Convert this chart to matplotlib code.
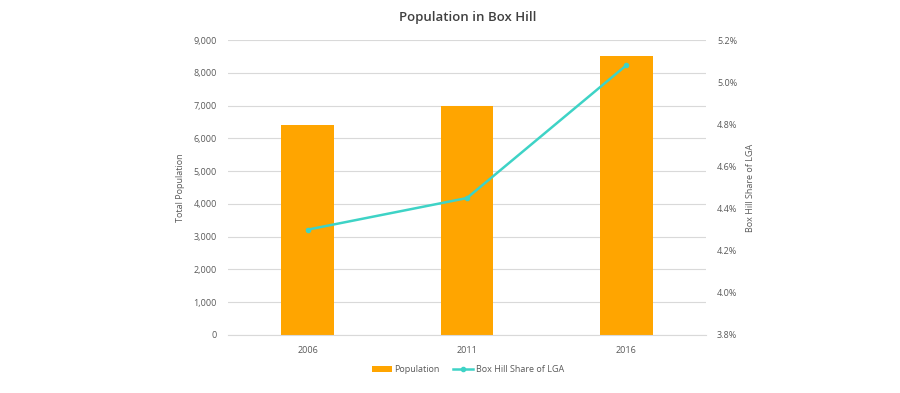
import matplotlib.pyplot as plt
from matplotlib.ticker import FuncFormatter, MultipleLocator

# Data
years = ["2006", "2011", "2016"]
population = [6400, 7000, 8500]
share_pct = [4.30, 4.45, 5.08]

plt.rcParams['font.family'] = ['Open Sans', 'DejaVu Sans']

text_grey = "#595959"
grid_grey = "#d9d9d9"
bar_orange = "#FFA500"
line_teal = "#3ED3C6"

fig = plt.figure(figsize=(9, 3.93), dpi=100, facecolor='white')
ax = fig.add_axes([0.2533, 0.1476, 0.5311, 0.7506])
ax2 = ax.twinx()

x = list(range(len(years)))
ax.bar(x, population, width=0.33, color=bar_orange, zorder=2, label="Population")
ax2.plot(x, share_pct, color=line_teal, linewidth=1.8, marker='o', markersize=3,
         zorder=3, label="Box Hill Share of LGA")

# Left axis
ax.set_xlim(-0.5, 2.5)
ax.set_ylim(0, 9000)
ax.yaxis.set_major_locator(MultipleLocator(1000))
ax.yaxis.set_major_formatter(FuncFormatter(lambda v, p: f"{int(v):,}"))
ax.grid(axis='y', color=grid_grey, linewidth=0.8, zorder=0)
ax.set_axisbelow(True)
ax.set_xticks(x)
ax.set_xticklabels(years)
ax.set_ylabel("Total Population", color=text_grey, fontsize=6.5, labelpad=6)

# Right axis
ax2.set_ylim(3.8, 5.2)
ax2.yaxis.set_major_locator(MultipleLocator(0.2))
ax2.yaxis.set_major_formatter(FuncFormatter(lambda v, p: f"{v:.1f}%"))
ax2.set_ylabel("Box Hill Share of LGA", color=text_grey, fontsize=6.5, labelpad=6)

for a in (ax, ax2):
    for s in a.spines.values():
        s.set_visible(False)
    a.tick_params(axis='both', length=0, labelsize=6.5, labelcolor=text_grey, pad=8)
ax.spines['bottom'].set_visible(True)
ax.spines['bottom'].set_color(grid_grey)

fig.text(0.52, 0.955, "Population in Box Hill", ha='center', va='center',
         fontsize=9.5, color="#404040", fontweight='semibold')

h1, l1 = ax.get_legend_handles_labels()
h2, l2 = ax2.get_legend_handles_labels()
fig.legend(h1 + h2, l1 + l2, loc='center', bbox_to_anchor=(0.52, 0.06), ncol=2,
           frameon=False, fontsize=6.5, labelcolor=text_grey, handlelength=2.2,
           handleheight=0.6, columnspacing=1.5, handletextpad=0.3)

fig.savefig("out.png", dpi=100, facecolor='white')
